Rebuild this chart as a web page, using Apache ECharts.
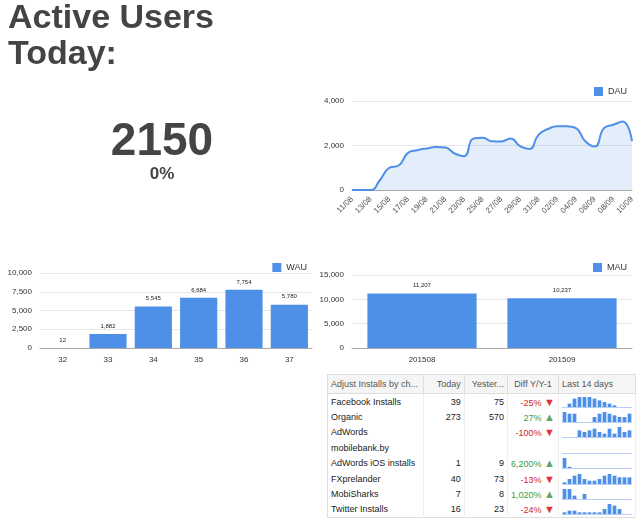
<!DOCTYPE html>
<html><head><meta charset="utf-8">
<script src="https://cdn.jsdelivr.net/npm/echarts@6/dist/echarts.min.js"></script>
<style>
body{margin:0;width:640px;height:524px;background:#fff;font-family:Arial,"Liberation Sans",sans-serif;position:relative;overflow:hidden}
#title{position:absolute;left:8px;top:-2px;font-size:34px;font-weight:bold;color:#444;line-height:36px}
#num{position:absolute;left:62px;width:200px;top:112px;text-align:center;font-size:46px;font-weight:bold;color:#444}
#pct{position:absolute;left:62px;width:200px;top:164px;text-align:center;font-size:17px;font-weight:bold;color:#444}
#main{position:absolute;left:0;top:0;width:640px;height:370px}
#tbl{position:absolute;left:327px;top:374px;width:309px;border:1px solid #ddd;border-collapse:collapse;font-size:9px;color:#222}
#tbl td,#tbl th{height:15.4px;padding:0 3px;white-space:nowrap;overflow:hidden}
#tbl th{font-weight:normal;color:#555;background:#f5f5f5;border-right:1px solid #ddd;border-bottom:1px solid #ddd;height:18px}
#tbl td{border-right:1px solid #eee}
.r{text-align:right}.up{color:#3b9c4a}.dn{color:#d0242e}
.ua{color:#5aa865;font-size:11px}.da{color:#e0323c;font-size:11px}
.spk{width:70px;height:12px}
</style></head><body>
<div id="main"></div>
<div id="title">Active Users<br>Today:</div>
<div id="num">2150</div>
<div id="pct">0%</div>
<table id="tbl"><thead><tr>
<th style="text-align:left;width:90px">Adjust Installs by ch...</th><th class="r" style="width:38px">Today</th><th class="r" style="width:38px">Yester...</th><th style="width:40px">Diff Y/Y-1</th><th style="text-align:left;width:70px">Last 14 days</th>
</tr></thead><tbody id="tb"></tbody></table>
<script>
const dauDates=["11/08","12/08","13/08","14/08","15/08","16/08","17/08","18/08","19/08","20/08","21/08","22/08","23/08","24/08","25/08","26/08","27/08","28/08","29/08","30/08","31/08","01/09","02/09","03/09","04/09","05/09","06/09","07/09","08/09","09/09","10/09"];
const dauValues=[0,0,0,450,1000,1100,1670,1790,1870,1930,1910,1640,1520,2310,2350,2190,2180,2310,1970,1840,2490,2740,2870,2870,2780,2190,1950,2780,2930,3080,2200];
const wauWeeks=["32","33","34","35","36","37"];
const wauValues=[12,1882,5545,6684,7754,5780];
const mauMonths=["201508","201509"];
const mauValues=[11207,10237];
const chNames=["Facebook Installs","Organic","AdWords","mobilebank.by","AdWords iOS installs","FXprelander","MobiSharks","Twitter Installs"];
const chToday=[39,273,null,null,1,40,7,16];
const chYest=[75,570,null,null,9,73,8,23];
const chDiff=["-25%","27%","-100%","","6,200%","-13%","1,020%","-24%"];
const chSpark=[
[0,2,5,6,6,6,5,4,3,2,1,0,0,0],
[6,5,5,0,0,0,3,5,6,5,4,3,3,5],
[0,0,0,4,3,4,5,3,2,5,2,6,3,4],
[0,0,0,0,0,0,0,0,0,0,0,0,0,0],
[8,1,0,0,0,0,0,0,0,0,0,0,0,0],
[1,3,5,6,3,2,2,3,5,6,5,4,4,4],
[6,6,2,0,3,0,0,0,0,0,0,0,0,0],
[1,2,2,1,1,1,1,1,3,6,5,3,0,0]];
const blue='#4e8fe8';
const ax={axisLabel:{fontSize:8,color:'#333'},axisLine:{lineStyle:{color:'#aaa'}},axisTick:{show:false}};
const yax={type:'value',axisLabel:{fontSize:8,color:'#333'},splitLine:{lineStyle:{color:'#e6e6e6'}},axisLine:{show:false}};
const leg=(x,y)=>({right:x,top:y,itemWidth:9,itemHeight:9,icon:'rect',textStyle:{fontSize:9,color:'#333'}});
const c=echarts.init(document.getElementById('main'));
c.setOption({animation:false,
legend:[{...leg(8,82),data:['DAU']},{...leg(328,258),data:['WAU']},{...leg(8,258),data:['MAU']}],
grid:[{left:352,right:8,top:101,height:89},{left:40,right:328,top:273,height:75},{left:352,right:8,top:275,height:73}],
xAxis:[{...ax,gridIndex:0,type:'category',boundaryGap:false,data:dauDates,axisLabel:{fontSize:8,color:'#555',rotate:45,interval:1}},
{...ax,gridIndex:1,type:'category',data:wauWeeks},{...ax,gridIndex:2,type:'category',data:mauMonths}],
yAxis:[{...yax,gridIndex:0,min:0,max:4000,interval:2000},{...yax,gridIndex:1,min:0,max:10000,interval:2500},{...yax,gridIndex:2,min:0,max:15000,interval:5000}],
series:[
{name:'DAU',type:'line',smooth:true,showSymbol:false,xAxisIndex:0,yAxisIndex:0,data:dauValues,itemStyle:{color:blue},lineStyle:{width:2,color:blue},areaStyle:{color:'rgba(78,143,232,0.22)'}},
{name:'WAU',type:'bar',xAxisIndex:1,yAxisIndex:1,data:wauValues,barWidth:'82%',itemStyle:{color:blue},label:{show:true,position:'top',fontSize:6,color:'#222',formatter:p=>p.value.toLocaleString('en-US')}},
{name:'MAU',type:'bar',xAxisIndex:2,yAxisIndex:2,data:mauValues,barWidth:'78%',itemStyle:{color:blue},label:{show:true,position:'top',fontSize:6,color:'#222',formatter:p=>p.value.toLocaleString('en-US')}}
]});
const tb=document.getElementById('tb');
chNames.forEach((n,i)=>{
 const d=chDiff[i];let dc='',ar='';
 if(d){if(d[0]=='-'){dc='dn';ar=' <span class="da">▼</span>'}else{dc='up';ar=' <span class="ua">▲</span>'}}
 const tr=document.createElement('tr');
 tr.innerHTML=`<td>${n}</td><td class="r">${chToday[i]??''}</td><td class="r">${chYest[i]??''}</td><td class="r ${dc}">${d}${ar}</td><td><div class="spk" id="s${i}"></div></td>`;
 tb.appendChild(tr);
 const s=echarts.init(document.getElementById('s'+i));
 s.setOption({animation:false,grid:{left:0,right:0,top:1,bottom:1},xAxis:{type:'category',show:true,data:chSpark[i].map((_,k)=>k),axisLine:{lineStyle:{color:'#aac4ee',type:'dotted'}},axisTick:{show:false},axisLabel:{show:false}},
 yAxis:{type:'value',show:false,min:0,max:Math.max(1,...chSpark[i])},
 series:[{type:'bar',data:chSpark[i],barWidth:'75%',itemStyle:{color:blue}}]});
});
</script></body></html>
